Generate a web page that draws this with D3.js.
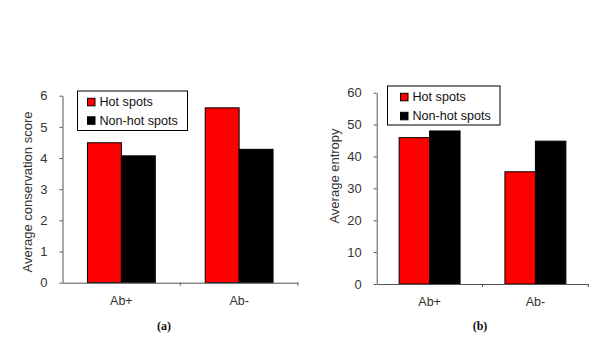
<!DOCTYPE html>
<html><head><meta charset="utf-8">
<script src="https://cdn.jsdelivr.net/npm/d3@7"></script>
<style>body{margin:0;background:#fff}svg{display:block}</style>
</head><body>
<svg id="c" width="600" height="354"></svg>
<script>
const categories = ["Ab+", "Ab-"];
const seriesNames = ["Hot spots", "Non-hot spots"];
const seriesColors = ["#ff0000", "#000000"];
const consHot = [4.49, 5.61];
const consNonHot = [4.07, 4.28];
const entHot = [45.9, 35.2];
const entNonHot = [48.0, 44.8];
const consTicks = [0, 1, 2, 3, 4, 5, 6];
const entTicks = [0, 10, 20, 30, 40, 50, 60];

const svg = d3.select("#c");
const font = "Arial, 'Liberation Sans', sans-serif";
const textCol = "#333";

function panel(o) {
  const g = svg.append("g");
  const x0 = d3.scaleBand().domain(categories).range([o.left, o.right]).paddingInner(0).paddingOuter(0);
  const bw = x0.bandwidth();
  const x1 = d3.scaleBand().domain(seriesNames).range([bw * 0.212, bw * 0.788]);
  const y = d3.scaleLinear().domain([0, o.max]).range([o.bottom, o.top]);
  const data = categories.map((c, i) => ({c, vals: [o.s1[i], o.s2[i]]}));

  data.forEach(d => {
    d.vals.forEach((v, j) => {
      g.append("rect")
        .attr("x", x0(d.c) + x1(seriesNames[j]))
        .attr("y", y(v))
        .attr("width", x1.bandwidth())
        .attr("height", y(0) - y(v))
        .attr("fill", seriesColors[j])
        .attr("stroke", "#000").attr("stroke-width", 1);
    });
  });

  const ya = g.append("g").attr("transform", `translate(${o.left},0)`)
    .call(d3.axisLeft(y).tickValues(o.ticks).tickFormat(d3.format("d")).tickSize(3).tickPadding(12).tickSizeOuter(0));
  ya.select(".domain").attr("stroke", "#555");
  ya.selectAll(".tick line").attr("stroke", "#555");
  ya.selectAll("text").attr("font-family", font).attr("font-size", 13).attr("fill", textCol);

  const xa = g.append("g").attr("transform", `translate(0,${o.bottom})`)
    .call(d3.axisBottom(x0).tickSize(0).tickPadding(13));
  xa.select(".domain").attr("stroke", "#555");
  xa.selectAll("text").attr("font-family", font).attr("font-size", 12.5).attr("fill", textCol);
  const bounds = [o.left + bw, o.right];
  bounds.forEach(b => g.append("line").attr("x1", b).attr("x2", b)
    .attr("y1", o.bottom).attr("y2", o.bottom + 3).attr("stroke", "#555"));

  g.append("text")
    .attr("transform", `translate(${o.ylabX},${o.ylabY}) rotate(-90)`)
    .attr("text-anchor", "middle")
    .attr("font-family", font).attr("font-size", 13).attr("fill", textCol)
    .text(o.ylabel);

  const lg = g.append("g");
  lg.append("rect").attr("x", o.lx).attr("y", o.ly).attr("width", o.lw).attr("height", o.lh)
    .attr("fill", "#fff").attr("stroke", "#000").attr("stroke-width", 1);
  seriesNames.forEach((s, j) => {
    const yy = o.ly + 7.3 + j * o.lsp;
    lg.append("rect").attr("x", o.lx + o.sqOff).attr("y", yy).attr("width", 7.5).attr("height", 7.5)
      .attr("fill", seriesColors[j]).attr("stroke", "#000");
    lg.append("text").attr("x", o.lx + o.sqOff + 12).attr("y", yy + 7.8)
      .attr("font-family", font).attr("font-size", 12.6).attr("fill", "#111").text(s);
  });

  g.append("text").attr("x", o.capX).attr("y", 330).attr("text-anchor", "middle")
    .attr("font-family", "'Times New Roman', 'Liberation Serif', serif").attr("font-weight", "bold")
    .attr("font-size", 12).attr("fill", "#111").text(o.cap);
}

panel({left: 62.5, right: 298, top: 95.7, bottom: 282.7, max: 6, ticks: consTicks,
  s1: consHot, s2: consNonHot, ylabel: "Average conservation score", ylabX: 32, ylabY: 192,
  lx: 77.5, ly: 91, lw: 110, lh: 39.5, sqOff: 10, lsp: 18.5, cap: "(a)", capX: 164});
panel({left: 376.7, right: 588.3, top: 92.7, bottom: 284, max: 60, ticks: entTicks,
  s1: entHot, s2: entNonHot, ylabel: "Average entropy", ylabX: 339, ylabY: 176,
  lx: 387.5, ly: 86, lw: 112.5, lh: 39, sqOff: 13, lsp: 19, cap: "(b)", capX: 480});
</script>
</body></html>
